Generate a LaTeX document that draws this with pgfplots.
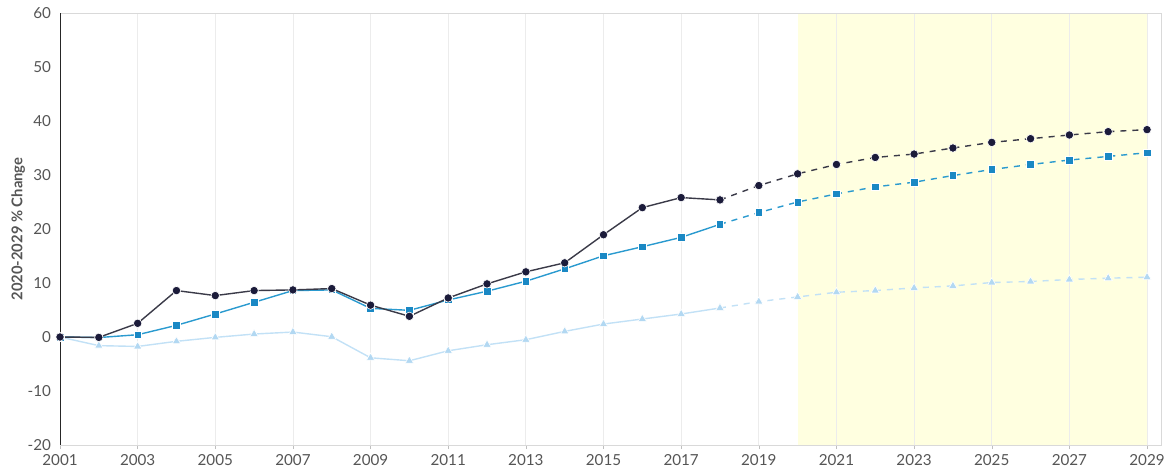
\documentclass[border=0pt]{standalone}
\usepackage{fontspec}
\setmainfont{Lato}
\usepackage{pgfplots}
\pgfplotsset{compat=1.18}
\definecolor{darkc}{HTML}{1B1B3A}
\definecolor{darkl}{HTML}{3A3A48}
\definecolor{bluec}{HTML}{1A88C4}
\definecolor{bluel}{HTML}{2A9ACF}
\definecolor{lightc}{HTML}{B2D8F2}
\definecolor{lightl}{HTML}{C2E1F6}
\definecolor{yel}{HTML}{FFFFE0}
\definecolor{txt}{HTML}{555555}

\begin{document}
\begin{tikzpicture}
\begin{axis}[
    set layers,
    scale only axis,
    width=550.5pt, height=216pt,
    xmin=2001, xmax=2029.36,
    ymin=-20, ymax=60,
    xtick={2001,2003,...,2029},
    ytick={-20,-10,...,60},
    xticklabel style={/pgf/number format/1000 sep={}},
    /pgf/number format/assume math mode=true,
    tick label style={font=\fontsize{7.6}{9}\selectfont, text=txt},
    ylabel={\bfseries 2020-2029 \% Change},
    ylabel style={font=\fontsize{7.4}{9}\selectfont, text=txt, yshift=-5.5pt},
    xmajorgrids,
    grid style={draw=gray!15, line width=0.4pt},
    axis line style={draw=gray!30},
    xtick pos=bottom, ytick pos=left,
    tick align=outside,
    major tick length=2pt,
    x tick style={gray!50},
    y tick style={draw=none},
    yticklabel style={xshift=1pt},
    xticklabel style={yshift=1pt},
    every axis plot/.append style={line width=0.7pt},
]
% projection period
\addplot[on layer=axis background, fill=yel, draw=none] coordinates {(2020,-20) (2020,60) (2029,60) (2029,-20)} -- cycle;

% light series (triangles)
\addplot[color=lightl, mark=triangle*, mark size=2.4pt, mark options={fill=lightc, draw=white, line width=0.3pt}] coordinates {
(2001,0) (2002,-1.6) (2003,-1.75) (2004,-0.8) (2005,-0.07) (2006,0.55) (2007,0.92) (2008,0.05)
(2009,-3.85) (2010,-4.4) (2011,-2.55) (2012,-1.43) (2013,-0.5) (2014,1.04) (2015,2.4) (2016,3.33)
(2017,4.26) (2018,5.37)};
\addplot[color=lightl, dashed, dash pattern=on 3pt off 3pt, mark=triangle*, mark size=2.4pt, mark options={solid, fill=lightc, draw=white, line width=0.3pt}] coordinates {
(2018,5.37) (2019,6.55) (2020,7.42) (2021,8.29) (2022,8.6) (2023,9.09) (2024,9.46) (2025,10.09)
(2026,10.28) (2027,10.65) (2028,10.89) (2029,11.08)};

% blue series (squares)
\addplot[color=bluel, mark=square*, mark size=1.9pt, mark options={fill=bluec, draw=white, line width=0.3pt}] coordinates {
(2001,0) (2002,-0.1) (2003,0.42) (2004,2.16) (2005,4.26) (2006,6.43) (2007,8.6) (2008,8.72)
(2009,5.3) (2010,4.94) (2011,6.86) (2012,8.48) (2013,10.33) (2014,12.62) (2015,15.04) (2016,16.72)
(2017,18.45) (2018,20.87)};
\addplot[color=bluel, dashed, dash pattern=on 3pt off 3pt, mark=square*, mark size=1.9pt, mark options={solid, fill=bluec, draw=white, line width=0.3pt}] coordinates {
(2018,20.87) (2019,23.04) (2020,25.0) (2021,26.5) (2022,27.8) (2023,28.67) (2024,29.9) (2025,31.02)
(2026,31.95) (2027,32.77) (2028,33.44) (2029,34.13)};

% dark series (circles)
\addplot[color=darkl, mark=*, mark size=2.1pt, mark options={fill=darkc, draw=white, line width=0.3pt}] coordinates {
(2001,0) (2002,-0.07) (2003,2.53) (2004,8.6) (2005,7.67) (2006,8.6) (2007,8.72) (2008,8.97)
(2009,5.9) (2010,3.83) (2011,7.23) (2012,9.84) (2013,12.07) (2014,13.74) (2015,18.94) (2016,23.96)
(2017,25.82) (2018,25.39)};
\addplot[color=darkl, dashed, dash pattern=on 3pt off 3pt, mark=*, mark size=2.1pt, mark options={solid, fill=darkc, draw=white, line width=0.3pt}] coordinates {
(2018,25.39) (2019,28.05) (2020,30.22) (2021,31.95) (2022,33.25) (2023,33.88) (2024,35.0) (2025,36.04)
(2026,36.73) (2027,37.41) (2028,38.03) (2029,38.4)};

\draw[on layer=axis foreground, black!85, line width=0.8pt] (rel axis cs:0,0) -- (rel axis cs:0,1);
\end{axis}
\pgfresetboundingbox
\path (-30pt,-13pt) rectangle (553.5pt,222.5pt);
\end{tikzpicture}
\end{document}
